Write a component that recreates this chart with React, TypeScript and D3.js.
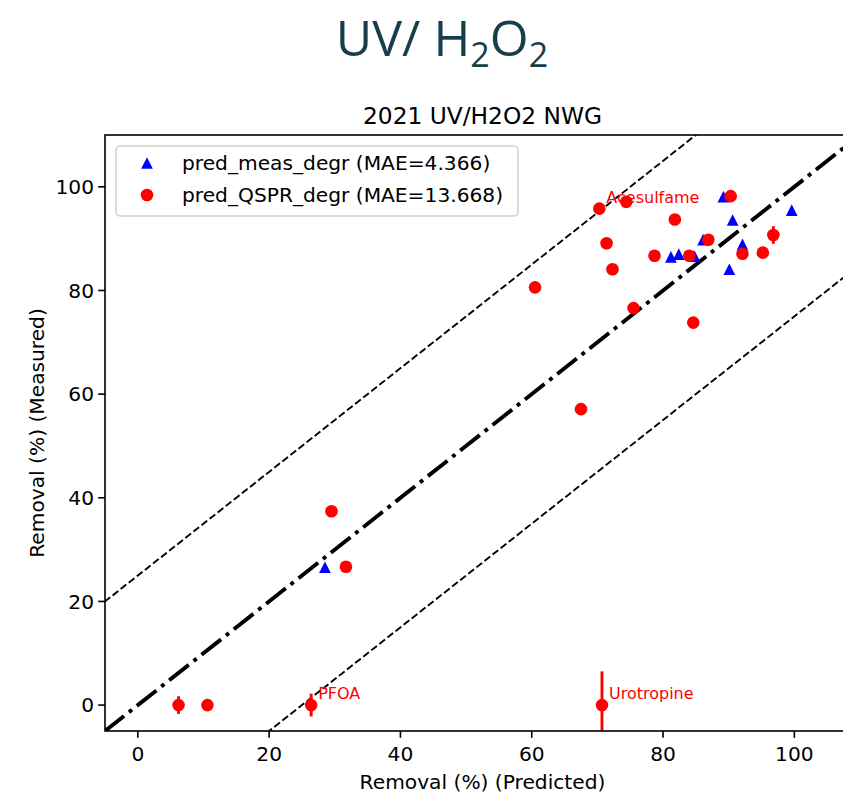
import React from 'react';
import * as d3 from 'd3';

// predicted vs measured removal (%)
const measX = [28.5, 81.2, 82.4, 84.8, 86.1, 89.2, 90.1, 90.6, 92.1, 99.6];
const measY = [26.6, 86.5, 87.0, 86.6, 89.8, 98.1, 84.1, 93.6, 88.9, 95.5];

const qsprX = [6.2, 10.6, 26.4, 29.5, 31.7, 60.5, 67.5, 70.7, 70.3, 71.4, 72.3, 74.4, 75.5, 78.7, 81.8, 84.0, 84.6, 86.9, 90.3, 92.1, 95.2, 96.8];
const qsprY = [0, 0, 0, 37.4, 26.7, 80.6, 57.1, 0, 95.8, 89.1, 84.1, 97.1, 76.6, 86.7, 93.7, 86.7, 73.8, 89.8, 98.2, 87.1, 87.3, 90.7];
const qsprErr = [1.7, 0, 2.2, 0, 0, 0, 0, 6.5, 0, 0, 0, 0, 0, 0, 0, 0, 0, 0, 0, 0, 0, 1.7];

const labels = [
  { name: 'Acesulfame', x: 70.3, y: 95.8 },
  { name: 'PFOA', x: 26.4, y: 0 },
  { name: 'Urotropine', x: 70.7, y: 0 },
];

const xTicks = [0, 20, 40, 60, 80, 100];
const yTicks = [0, 20, 40, 60, 80, 100];
const bandOffset = 25;

const W = 843, H = 796;
const left = 105, right = 860, top = 135, bottom = 731;
const font = 'DejaVu Sans, sans-serif';
const fs = 20.2;

export default function App() {
  const x = d3.scaleLinear().domain([-5, 110]).range([left, right]);
  const y = d3.scaleLinear().domain([-5, 110]).range([bottom, top]);
  const line = d3.line<[number, number]>().x(d => x(d[0])).y(d => y(d[1]));
  const span: [number, number] = [-10, 120];
  const diag = (off: number) => line([[span[0], span[0] + off], [span[1], span[1] + off]]) || '';
  const ts = 5.85; // half size of triangle marker
  const triPath = `M0,${-ts}L${-ts},${ts}L${ts},${ts}Z`;

  return (
    <svg width={W} height={H} style={{ position: 'absolute', left: 0, top: 0, background: '#fff' }}>
      <defs>
        <clipPath id="plot">
          <rect x={left} y={top} width={right - left} height={bottom - top} />
        </clipPath>
      </defs>

      <text x={442} y={56} textAnchor="middle" fill="#173f4b" fontFamily="Open Sans, sans-serif" fontWeight={400} fontSize={50}>
        UV/ H<tspan fontSize={34} dy={11}>2</tspan><tspan dy={-11}>O</tspan><tspan fontSize={34} dy={11}>2</tspan>
      </text>

      <text x={(left + right) / 2} y={124} textAnchor="middle" fontFamily={font} fontSize={23.3}>2021 UV/H2O2 NWG</text>

      <g clipPath="url(#plot)">
        <path d={diag(bandOffset)} stroke="#000" strokeWidth={1.9} strokeDasharray="7.2,3.1" fill="none" />
        <path d={diag(-bandOffset)} stroke="#000" strokeWidth={1.9} strokeDasharray="7.2,3.1" fill="none" />
        <path d={diag(0)} stroke="#000" strokeWidth={3.9} strokeDasharray="24.9,6.2,3.9,6.2" fill="none" />

        {measX.map((v, i) => (
          <path key={'m' + i} d={triPath} transform={`translate(${x(v)},${y(measY[i])})`} fill="#0000ff" />
        ))}

        {qsprX.map((v, i) => qsprErr[i] > 0 ? (
          <line key={'e' + i} x1={x(v)} x2={x(v)} y1={y(qsprY[i] - qsprErr[i])} y2={y(qsprY[i] + qsprErr[i])} stroke="#ff0000" strokeWidth={2.9} />
        ) : null)}
        {qsprX.map((v, i) => (
          <circle key={'q' + i} cx={x(v)} cy={y(qsprY[i])} r={6.3} fill="#ff0000" />
        ))}

        {labels.map(l => (
          <text key={l.name} x={x(l.x) + 7} y={y(l.y) - 6} fill="#ff0000" fontFamily={font} fontSize={16}>{l.name}</text>
        ))}
      </g>

      <rect x={left} y={top} width={right - left} height={bottom - top} fill="none" stroke="#000" strokeWidth={1.6} />

      {xTicks.map(t => (
        <g key={'x' + t} transform={`translate(${x(t)},${bottom})`}>
          <line y2={6.8} stroke="#000" strokeWidth={1.6} />
          <text y={30} textAnchor="middle" fontFamily={font} fontSize={fs}>{t}</text>
        </g>
      ))}
      {yTicks.map(t => (
        <g key={'y' + t} transform={`translate(${left},${y(t)})`}>
          <line x2={-6.8} stroke="#000" strokeWidth={1.6} />
          <text x={-11} dy="0.35em" textAnchor="end" fontFamily={font} fontSize={fs}>{t}</text>
        </g>
      ))}

      <text x={(left + right) / 2} y={789} textAnchor="middle" fontFamily={font} fontSize={fs}>Removal (%) (Predicted)</text>
      <text transform={`translate(37,${(top + bottom) / 2}) rotate(-90)`} textAnchor="middle" dy="0.35em" fontFamily={font} fontSize={fs}>Removal (%) (Measured)</text>

      <g>
        <rect x={116} y={146} width={402} height={70} rx={4} fill="#fff" fillOpacity={0.8} stroke="#d0d0d0" strokeWidth={1.5} />
        <path d={triPath} transform="translate(147,163)" fill="#0000ff" />
        <text x={182} y={170} fontFamily={font} fontSize={fs}>pred_meas_degr (MAE=4.366)</text>
        <circle cx={147} cy={195} r={6.3} fill="#ff0000" />
        <text x={182} y={202} fontFamily={font} fontSize={fs}>pred_QSPR_degr (MAE=13.668)</text>
      </g>
    </svg>
  );
}
